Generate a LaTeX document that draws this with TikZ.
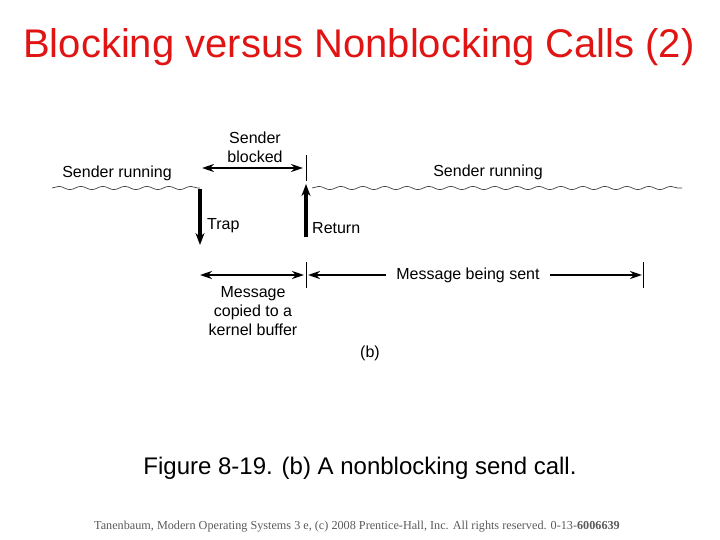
\documentclass[tikz,border=0pt]{standalone}
\usepackage{fontspec}
\setmainfont{Liberation Sans}
\newfontfamily\footfont{Liberation Serif}
\usetikzlibrary{arrows.meta,decorations.pathmorphing,positioning}
\definecolor{titlered}{RGB}{225,20,20}
\definecolor{footgray}{RGB}{90,90,90}
\tikzset{
  lbl/.style={font=\fontsize{16}{19}\selectfont, inner sep=1pt, align=center},
  wave/.style={draw=black!75, line width=0.7pt, decorate,
    decoration={snake, amplitude=1.6pt, segment length=22pt}},
  vert/.style={line width=3.4pt, -{Stealth[length=12pt,width=9pt]}},
  span/.style={line width=2.2pt, {Stealth[length=12pt,width=8pt]}-{Stealth[length=12pt,width=8pt]}},
  tick/.style={line width=0.9pt}
}
\begin{document}
\begin{tikzpicture}[x=1pt, y=-1pt]
\useasboundingbox (0,0) rectangle (720,540);

% title
\node[text=titlered, font=\fontsize{40}{44}\selectfont] (title) at (359,47) {Blocking versus Nonblocking Calls (2)};

% time points
\coordinate (trap) at (200,189);
\coordinate (ret) at (306,184);
\coordinate (waveL) at (52,188);
\coordinate (waveR) at (682,188);
\coordinate (trapEnd) at (200,245);
\coordinate (retStart) at (306,237);

% running lines
\draw[wave] (waveL) -- (200,188);
\draw[wave] (312,188) -- (waveR);
\node[lbl] (runL) at (117,173) {Sender running};
\node[lbl] (runR) at (488,172) {Sender running};

% trap and return
\draw[vert] (trap) -- (trapEnd);
\draw[vert] (retStart) -- (ret);
\node[lbl, anchor=west] (trapLbl) at (206,226) {Trap};
\node[lbl, anchor=west] (retLbl) at (311,228) {Return};

% sender blocked
\coordinate (blkL) at (202,168);
\coordinate (blkR) at (303,168);
\draw[tick] (306,155) -- (306,181);
\draw[span] (blkL) -- (blkR);
\node[lbl] (blkLbl) at (255,147) {Sender\\blocked};

% message spans
\coordinate (copyL) at (200,275);
\coordinate (copyR) at (304,275);
\coordinate (sendL) at (308,275);
\coordinate (sendR) at (642,275);
\draw[tick] (306,262) -- (306,288);
\draw[tick] (643,262) -- (643,288);
\draw[span] (copyL) -- (copyR);
\draw[span] (sendL) -- (sendR);
\node[lbl, fill=white, inner xsep=10pt] (sendLbl) at (468,275) {Message being sent};
\node[lbl] (copyLbl) at (253,311) {Message\\copied to a\\kernel buffer};
\node[lbl] (sub) at (370,353) {(b)};

% caption and footer
\node[font=\fontsize{24}{28}\selectfont] (cap) at (360,468) {Figure 8-19. (b) A nonblocking send call.};
\node[text=footgray, font=\footfont\fontsize{12.2}{14}\selectfont] (foot) at (357,527)
  {Tanenbaum, Modern Operating Systems 3 e, (c) 2008 Prentice-Hall, Inc. All rights reserved. 0-13-\textbf{6006639}};
\end{tikzpicture}
\end{document}
